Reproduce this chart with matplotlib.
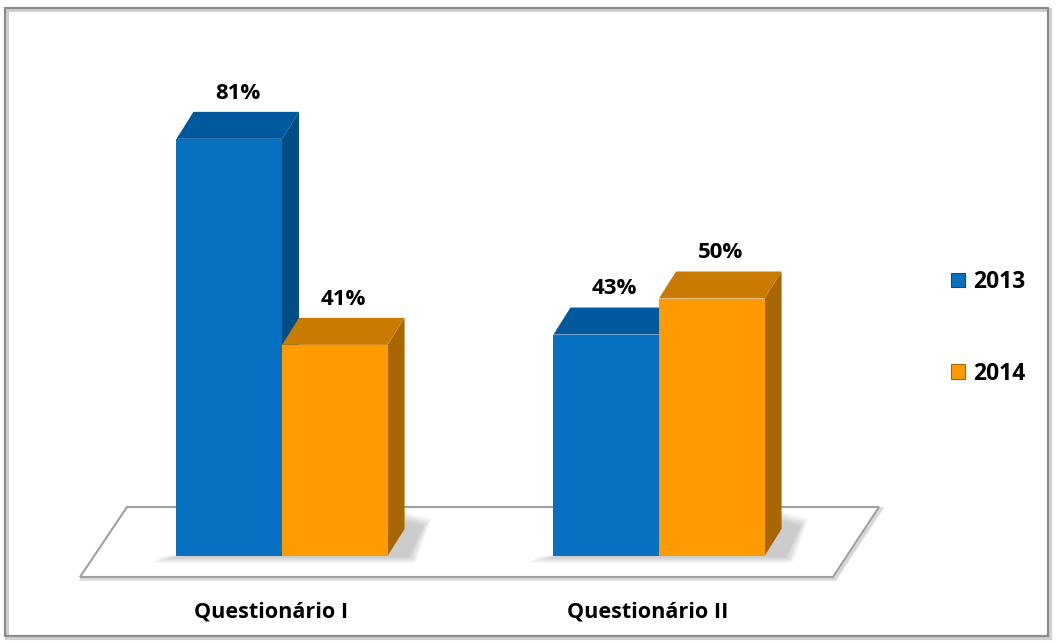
import matplotlib.pyplot as plt
from matplotlib.patches import Polygon, Rectangle, Patch
from matplotlib.transforms import Affine2D

plt.rcParams['font.family'] = ['Open Sans', 'DejaVu Sans']

categorias = ['Questionário I', 'Questionário II']
anos = ['2013', '2014']
valores_2013 = [81, 43]
valores_2014 = [41, 50]

# front / top / side colours per series
cores = {
    '2013': ('#0870C0', '#00599C', '#004C84'),
    '2014': ('#FF9A00', '#C97A00', '#A86600'),
}

W, H = 1057, 643
fig = plt.figure(figsize=(W / 100, H / 100), dpi=100)
# pixel coordinates measured from the top-left corner
px = Affine2D().scale(1 / W, -1 / H).translate(0, 1) + fig.transFigure

# outer frame with a light shadow
fig.patches.append(Rectangle((7, 10), 1043, 628, transform=px, fill=False,
                             ec='#d0d0d0', lw=3, zorder=-2))
fig.patches.append(Rectangle((5, 8), 1043, 628, transform=px, fill=False,
                             ec='#8c8c8c', lw=1.6, zorder=-2))

# floor
fig.patches.append(Polygon([(129, 509), (881, 509), (835, 579), (82, 579)],
                           closed=True, transform=px, fill=False,
                           ec='#d8d8d8', lw=2.5, zorder=-2))
fig.patches.append(Polygon([(127, 507), (879, 507), (833, 577), (80, 577)],
                           closed=True, transform=px, fc='white',
                           ec='#a0a0a0', lw=1.5, zorder=-1))

ax = fig.add_axes([0, 87 / H, 1, 515 / H])
ax.set_xlim(-282 / 377, 775 / 377)
ax.set_ylim(0, 100)
ax.axis('off')
ax.patch.set_alpha(0)

largura = 0.28
dx = 17 / 377          # depth of the boxes, x units
dy = 27 / 5.15         # depth of the boxes, percent units

def caixa(xc, v, serie):
    frente, topo, lado = cores[serie]
    x0, x1 = xc - largura / 2, xc + largura / 2
    ax.add_patch(Polygon([(x1, 0), (x1 + dx, dy), (x1 + dx, v + dy), (x1, v)],
                         closed=True, fc=lado, ec='none', zorder=3))
    ax.add_patch(Polygon([(x0, v), (x1, v), (x1 + dx, v + dy), (x0 + dx, v + dy)],
                         closed=True, fc=topo, ec='none', zorder=3))
    ax.bar(xc, v, largura, color=frente, zorder=3)
    ax.text(xc + dx / 2, v + dy + 1.6, f'{v}%', ha='center', va='bottom',
            fontsize=16, fontweight='bold', color='black', zorder=5)

for i, cat in enumerate(categorias):
    # soft shadow on the floor behind each pair of boxes
    for k in range(6):
        e = 0.004 * k
        ax.add_patch(Polygon([(i - largura - 0.05 - e, -0.3 - k * 0.2),
                              (i + largura + dx + 0.01 + e, -0.3 - k * 0.2),
                              (i + largura + dx + 0.05 + e, dy + 0.5 + k * 0.3),
                              (i + largura + dx - 0.02, dy + 2 + k * 0.3)],
                             closed=True, fc='#606060', alpha=0.06, ec='none',
                             zorder=2, clip_on=False))
    caixa(i - largura / 2, valores_2013[i], '2013')
    caixa(i + largura / 2, valores_2014[i], '2014')
    ax.text(i - 0.03, -10.9, cat, ha='center', va='center', fontsize=15.6,
            fontweight='bold', color='black', clip_on=False)

handles = [Patch(fc=cores[a][0], ec=cores[a][2], lw=0.8) for a in anos]
fig.legend(handles, anos, loc='upper left', bbox_to_anchor=(951 / W, 1 - 270 / H),
           frameon=False, prop={'weight': 'bold', 'size': 16.5},
           handlelength=0.62, handleheight=0.62, handletextpad=0.35,
           labelspacing=2.95, borderpad=0, borderaxespad=0)

fig.savefig('out.png', dpi=100)
